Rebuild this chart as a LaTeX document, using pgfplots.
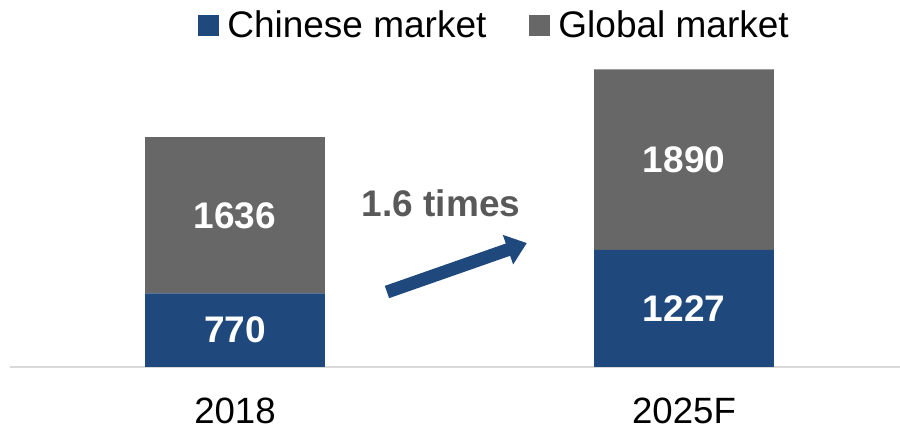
\documentclass[border=0pt]{standalone}
\usepackage{fontspec}
\setmainfont{Liberation Sans}
\usepackage{pgfplots}
\pgfplotsset{compat=1.18}
\usetikzlibrary{arrows.meta}
\definecolor{cblue}{HTML}{1F497D}
\definecolor{cgray}{HTML}{676767}
\definecolor{tgray}{HTML}{595959}
\definecolor{lgray}{HTML}{D9D9D9}
\begin{document}
\begin{tikzpicture}
\useasboundingbox (0,0) rectangle (450pt,215.5pt);
\begin{axis}[
 at={(5pt,32pt)}, anchor=south west,
 scale only axis, width=445pt, height=153.5pt,
 ybar stacked, bar width=0.4,
 xmin=-0.501, xmax=1.481, ymin=0, ymax=3215,
 axis x line=bottom, axis y line=none,
 x axis line style={draw=lgray, line width=1.2pt, -},
 xtick={0,1}, xticklabels={2018,2025F},
 major tick length=0pt, ytick=\empty,
 /pgf/number format/assume math mode=true,
 /pgf/number format/1000 sep={},
 xticklabel style={font=\fontsize{18.3}{21}\selectfont, yshift=-12pt},
 legend style={at={(0.545,1.112)}, anchor=center, draw=none, fill=none, font=\fontsize{18.5}{21}\selectfont, legend columns=2,
   /tikz/every odd column/.append style={column sep=2.5pt},
   /tikz/every even column/.append style={column sep=20pt}, nodes={inner sep=1.5pt}},
 legend image code/.code={\fill[#1] (0pt,-5.25pt) rectangle (10.5pt,5.25pt);},
 nodes near coords,
 every node near coord/.append style={anchor=center, font=\bfseries\fontsize{18.5}{21}\selectfont, text=white},
]
\addplot[fill=cblue, draw=none] coordinates {(0,770) (1,1227)};
\addplot[fill=cgray, draw=none] coordinates {(0,1636) (1,1890)};
\legend{Chinese market, Global market}
\draw[cblue, line width=6.5pt, -{Triangle[length=10pt,width=15pt]}] (axis cs:0.3385,785) -- (axis cs:0.650,1298);
\node[text=tgray, font=\bfseries\fontsize{18.5}{21}\selectfont] at (axis cs:0.459,1717) {1.6 times};
\end{axis}
\end{tikzpicture}
\end{document}
